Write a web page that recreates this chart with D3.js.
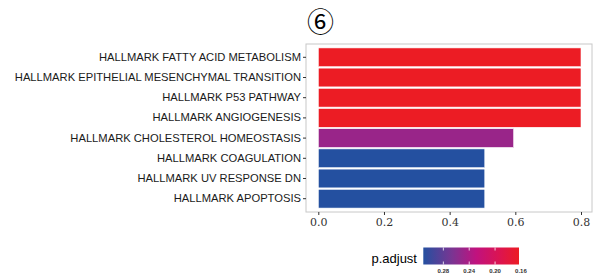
<!DOCTYPE html>
<html>
<head>
<meta charset="utf-8">
<script src="https://cdn.jsdelivr.net/npm/d3@7"></script>
<style>
  body { margin: 0; background: #fff; }
  svg { display: block; font-family: "Liberation Sans", Arial, sans-serif; }
</style>
</head>
<body>
<svg id="chart"></svg>
<script>
// data
const pathways = [
  "HALLMARK FATTY ACID METABOLISM",
  "HALLMARK EPITHELIAL MESENCHYMAL TRANSITION",
  "HALLMARK P53 PATHWAY",
  "HALLMARK ANGIOGENESIS",
  "HALLMARK CHOLESTEROL HOMEOSTASIS",
  "HALLMARK COAGULATION",
  "HALLMARK UV RESPONSE DN",
  "HALLMARK APOPTOSIS"
];
const values = [0.8, 0.8, 0.8, 0.8, 0.595, 0.507, 0.507, 0.507];
const padjust = [0.163, 0.163, 0.163, 0.163, 0.25, 0.311, 0.311, 0.311];
const xTicks = [0, 0.2, 0.4, 0.6, 0.8];
const legendTicks = [0.28, 0.24, 0.20, 0.16];

const width = 599, height = 275;
const svg = d3.select("#chart")
  .attr("width", width)
  .attr("height", height)
  .attr("viewBox", [0, 0, width, height]);

// panel
const panel = { left: 306, top: 44, right: 592, bottom: 212 };

const x = d3.scaleLinear([0, 0.8], [318.3, 581]);
const y = d3.scaleBand(pathways, [panel.top + 2.5, panel.bottom - 2.5]).padding(0.07);

// colour scale for p.adjust (red = small, blue = large)
const pMin = 0.163, pMax = 0.311;
const gradStops = [0, 0.3, 0.55, 0.8, 1];
const gradColors = ["#2450a0", "#7a3592", "#c0127f", "#dc1450", "#ec1c24"];
const tOf = d3.scaleLinear([pMax, pMin], [0, 1]);
const ramp = d3.scaleLinear(gradStops, gradColors).interpolate(d3.interpolateRgb);
const color = p => ramp(tOf(p));

svg.append("rect")
  .attr("x", panel.left).attr("y", panel.top)
  .attr("width", panel.right - panel.left)
  .attr("height", panel.bottom - panel.top)
  .attr("fill", "#fff")
  .attr("stroke", "#c8c8c8")
  .attr("stroke-width", 1);

// bars
svg.append("g")
  .selectAll("rect")
  .data(pathways)
  .join("rect")
  .attr("x", x(0))
  .attr("y", d => y(d))
  .attr("width", (d, i) => x(values[i]) - x(0))
  .attr("height", y.bandwidth())
  .attr("fill", (d, i) => color(padjust[i]))
  .attr("stroke", "#fff")
  .attr("stroke-width", 0.6);

// y axis
const yAxis = svg.append("g")
  .attr("transform", `translate(${panel.left},0)`)
  .call(d3.axisLeft(y).tickSize(3).tickPadding(2));
yAxis.select(".domain").remove();
yAxis.selectAll("line").attr("stroke", "#333");
yAxis.selectAll("text")
  .attr("fill", "#1a1a1a")
  .style("font-size", "11.2px")
  .style("font-family", "\"Liberation Sans\", Arial, sans-serif");

// x axis
const xAxis = svg.append("g")
  .attr("transform", `translate(0,${panel.bottom})`)
  .call(d3.axisBottom(x).tickValues(xTicks).tickFormat(d3.format(".1f")).tickSize(3).tickPadding(3));
xAxis.select(".domain").remove();
xAxis.selectAll("line").attr("stroke", "#333");
xAxis.selectAll("text")
  .attr("fill", "#333")
  .style("font-size", "11px")
  .style("font-family", "\"DejaVu Serif\", serif");

// title
svg.append("text")
  .attr("x", 320.5)
  .attr("y", 32)
  .attr("text-anchor", "middle")
  .attr("fill", "#000")
  .style("font-size", "27px")
  .style("font-family", "\"Noto Sans CJK SC\", sans-serif")
  .text("⑥");

// legend colour bar
const lg = { x0: 423.3, x1: 519, y0: 247.5, y1: 264.5 };
const defs = svg.append("defs");
const grad = defs.append("linearGradient").attr("id", "pgrad");
gradStops.forEach((t, i) => {
  grad.append("stop")
    .attr("offset", `${t * 100}%`)
    .attr("stop-color", gradColors[i]);
});
const lx = d3.scaleLinear([pMax, pMin], [lg.x0, lg.x1]);
svg.append("rect")
  .attr("x", lg.x0).attr("y", lg.y0)
  .attr("width", lg.x1 - lg.x0).attr("height", lg.y1 - lg.y0)
  .attr("fill", "url(#pgrad)");
const lt = svg.append("g");
lt.selectAll("line.top")
  .data(legendTicks)
  .join("line")
  .attr("x1", d => lx(d)).attr("x2", d => lx(d))
  .attr("y1", lg.y0).attr("y2", lg.y0 + 3)
  .attr("stroke", "#fff").attr("stroke-width", 0.8);
lt.selectAll("line.bot")
  .data(legendTicks)
  .join("line")
  .attr("x1", d => lx(d)).attr("x2", d => lx(d))
  .attr("y1", lg.y1 - 3).attr("y2", lg.y1)
  .attr("stroke", "#fff").attr("stroke-width", 0.8);
lt.selectAll("text")
  .data(legendTicks)
  .join("text")
  .attr("x", d => lx(d))
  .attr("y", 273)
  .attr("text-anchor", "middle")
  .attr("fill", "#333")
  .style("font-size", "6px")
  .style("font-weight", "bold")
  .text(d3.format(".2f"));

svg.append("text")
  .attr("x", 417)
  .attr("y", 263)
  .attr("text-anchor", "end")
  .attr("fill", "#000")
  .style("font-size", "13px")
  .text("p.adjust");
</script>
</body>
</html>
